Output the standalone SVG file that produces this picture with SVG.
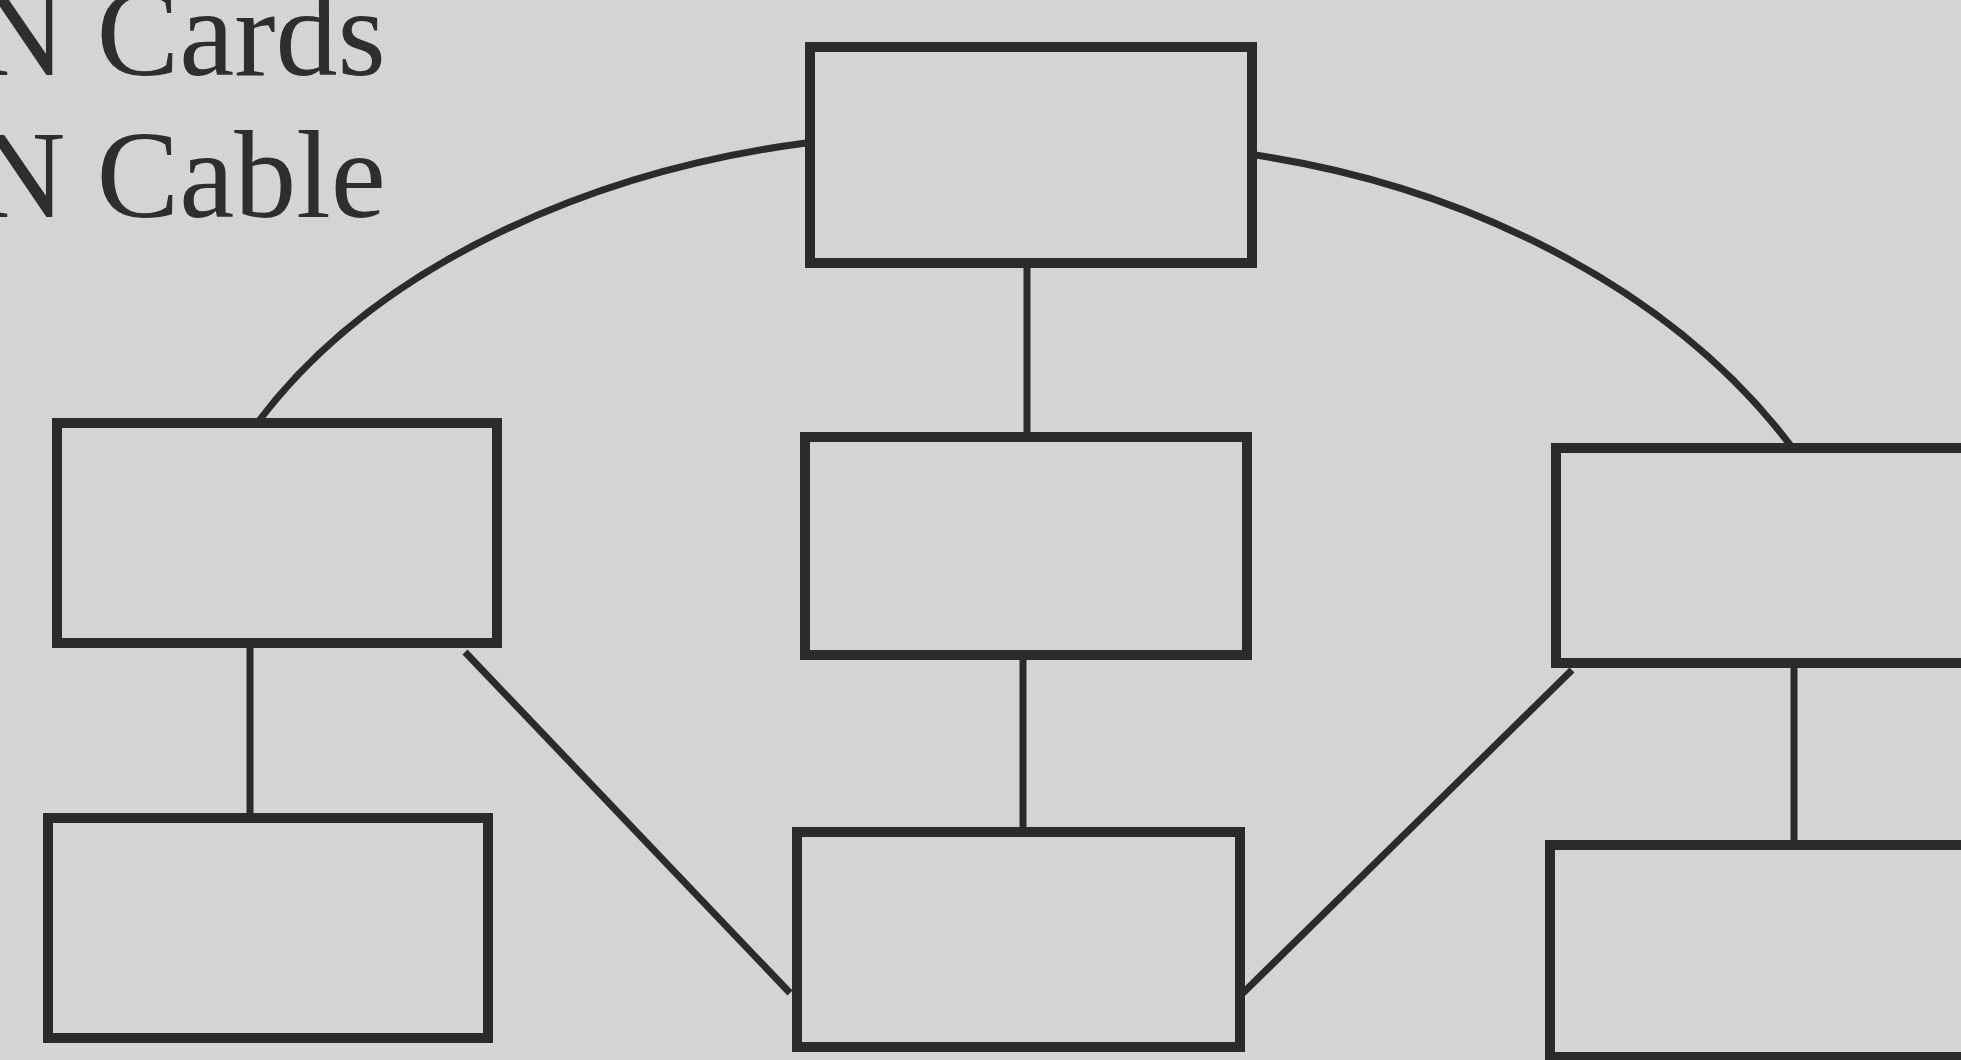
<svg xmlns="http://www.w3.org/2000/svg" width="1961" height="1060" viewBox="0 0 1961 1060">
<style>
.bg{fill:#d4d4d4}
.box{fill:none;stroke:#2b2b2b;stroke-width:10}
.con{fill:none;stroke:#2b2b2b;stroke-width:7}
.lbl{font-family:"Liberation Serif","Times New Roman",serif;font-size:124px;fill:#2e2e2e}
</style>
<rect class="bg" x="0" y="0" width="1961" height="1060"/>
<g id="labels">
<text class="lbl" x="-24" y="75">N Cards</text>
<text class="lbl" x="-24" y="217">N Cable</text>
</g>
<g id="connectors">
<path class="con" d="M806,143 C600,170 380,260 258,422"/>
<path class="con" d="M1255,155 C1455,185 1666,281 1791,446"/>
<line class="con" x1="1027" y1="266" x2="1027" y2="437"/>
<line class="con" x1="1023" y1="655" x2="1023" y2="832"/>
<line class="con" x1="250" y1="643" x2="250" y2="818"/>
<line class="con" x1="1794" y1="663" x2="1794" y2="845"/>
<line class="con" x1="465" y1="652" x2="790" y2="993"/>
<line class="con" x1="1572" y1="670" x2="1243" y2="993"/>
</g>
<g id="node-top"><rect class="box" x="810" y="47" width="442" height="216"/></g>
<g id="node-left-mid"><rect class="box" x="57" y="423" width="440" height="220"/></g>
<g id="node-center-mid"><rect class="box" x="805" y="437" width="442" height="218"/></g>
<g id="node-right-mid"><rect class="box" x="1556" y="448" width="430" height="215"/></g>
<g id="node-left-bottom"><rect class="box" x="48" y="818" width="440" height="220"/></g>
<g id="node-center-bottom"><rect class="box" x="797" y="832" width="443" height="215"/></g>
<g id="node-right-bottom"><rect class="box" x="1550" y="845" width="430" height="212"/></g>
</svg>
